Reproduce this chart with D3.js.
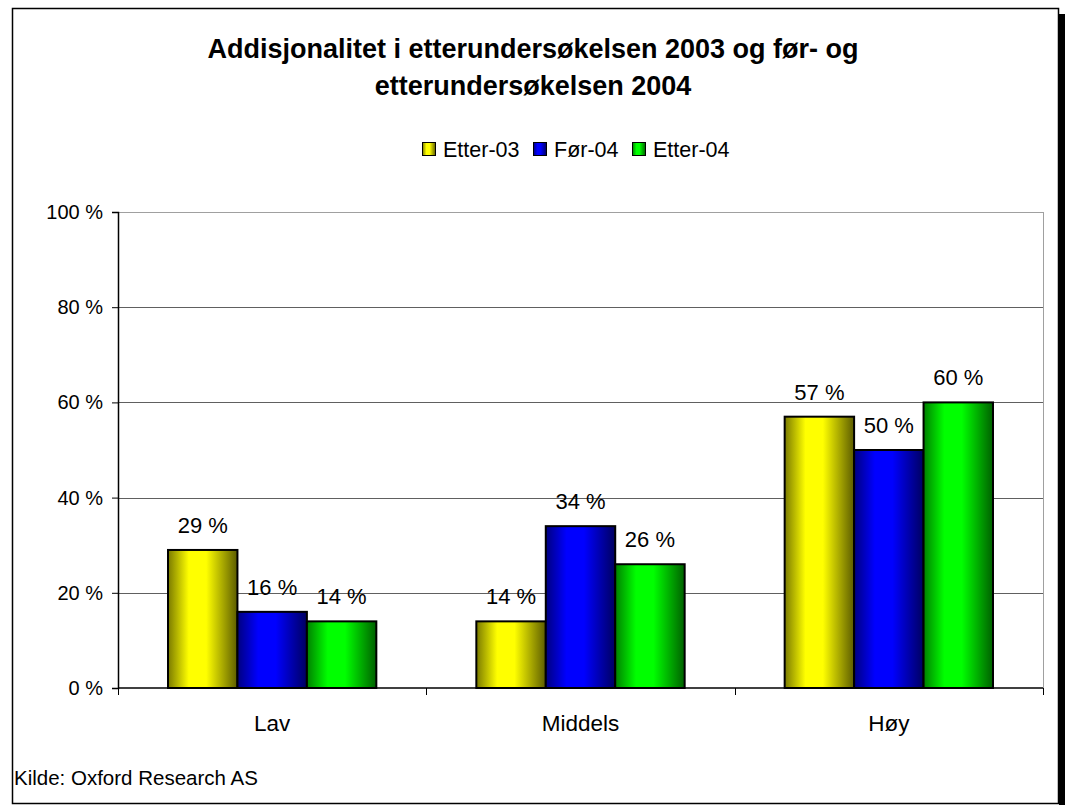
<!DOCTYPE html>
<html>
<head>
<meta charset="utf-8">
<script src="https://cdn.jsdelivr.net/npm/d3@7"></script>
<style>
  body { margin: 0; background: #fff; }
  text { font-family: "Liberation Sans", Arial, sans-serif; fill: #000; }
</style>
</head>
<body>
<svg id="chart" width="1065" height="805"></svg>
<script>
// data
const categories = ["Lav", "Middels", "Høy"];
const seriesNames = ["Etter-03", "Før-04", "Etter-04"];
const etter03 = [29, 14, 57];
const foer04 = [16, 34, 50];
const etter04 = [14, 26, 60];
const yTicks = [0, 20, 40, 60, 80, 100];

const seriesValues = [etter03, foer04, etter04];
const colors = [
  { bright: "#ffff00", dark: "#7a7a00", dark2: "#5c5c00" },
  { bright: "#0000ff", dark: "#000080", dark2: "#000060" },
  { bright: "#00ff00", dark: "#008000", dark2: "#006000" }
];

const svg = d3.select("#chart");
const margin = { left: 118, right: 1043, top: 212, bottom: 688 };

// gradientes (efecto cilindro)
const defs = svg.append("defs");
colors.forEach((c, i) => {
  const g = defs.append("linearGradient")
    .attr("id", "grad" + i)
    .attr("x1", "0%").attr("x2", "100%").attr("y1", "0%").attr("y2", "0%");
  g.append("stop").attr("offset", "0%").attr("stop-color", c.dark);
  g.append("stop").attr("offset", "30%").attr("stop-color", c.bright);
  g.append("stop").attr("offset", "55%").attr("stop-color", c.bright);
  g.append("stop").attr("offset", "100%").attr("stop-color", c.dark2);
});

// marco + sombra
svg.append("rect").attr("x", 1059).attr("y", 14).attr("width", 6).attr("height", 791).attr("fill", "#000");
svg.append("rect").attr("x", 12.5).attr("y", 8.5).attr("width", 1046).attr("height", 795)
  .attr("fill", "#fff").attr("stroke", "#000").attr("stroke-width", 1.5);

// titulo
const title = svg.append("text").attr("text-anchor", "middle")
  .style("font-size", "27px").style("font-weight", "bold");
title.append("tspan").attr("x", 533).attr("y", 58).text("Addisjonalitet i etterundersøkelsen 2003 og før- og");
title.append("tspan").attr("x", 533).attr("y", 95).text("etterundersøkelsen 2004");

// leyenda
const legendX = [422, 533, 632];
const legend = svg.append("g").selectAll("g").data(seriesNames).enter().append("g")
  .attr("transform", (d, i) => `translate(${legendX[i]},149)`);
legend.append("rect").attr("x", 0.5).attr("y", -6.5).attr("width", 13).attr("height", 13)
  .attr("fill", (d, i) => `url(#grad${i})`).attr("stroke", "#000").attr("stroke-width", 1);
legend.append("text").attr("x", 21).attr("y", 8).style("font-size", "21.5px").text(d => d);

// escalas
const x0 = d3.scaleBand().domain(categories).range([margin.left, margin.right]).paddingInner(0).paddingOuter(0);
const x1 = d3.scaleBand().domain(seriesNames).range([0, x0.bandwidth()]).paddingInner(0).paddingOuter(0.72);
const y = d3.scaleLinear().domain([0, 100]).range([margin.bottom, margin.top]);

// rejilla
svg.append("g").selectAll("line").data(yTicks.filter(t => t > 0)).enter().append("line")
  .attr("x1", margin.left).attr("x2", margin.right)
  .attr("y1", d => Math.round(y(d)) + 0.5).attr("y2", d => Math.round(y(d)) + 0.5)
  .attr("stroke", d => d === 100 ? "#a0a0a0" : "#606060").attr("stroke-width", 1);
svg.append("line").attr("x1", margin.right + 0.5).attr("x2", margin.right + 0.5)
  .attr("y1", margin.top).attr("y2", margin.bottom).attr("stroke", "#a0a0a0");

// barras
const groups = svg.append("g").selectAll("g").data(categories).enter().append("g")
  .attr("transform", d => `translate(${x0(d)},0)`);
groups.selectAll("rect")
  .data((c, ci) => seriesNames.map((s, si) => ({ s, si, v: seriesValues[si][ci] })))
  .enter().append("rect")
  .attr("x", d => x1(d.s))
  .attr("y", d => y(d.v))
  .attr("width", x1.bandwidth())
  .attr("height", d => y(0) - y(d.v))
  .attr("fill", d => `url(#grad${d.si})`)
  .attr("stroke", "#000").attr("stroke-width", 2);
groups.selectAll("text")
  .data((c, ci) => seriesNames.map((s, si) => ({ s, si, v: seriesValues[si][ci] })))
  .enter().append("text")
  .attr("x", d => x1(d.s) + x1.bandwidth() / 2)
  .attr("y", d => y(d.v) - 17)
  .attr("text-anchor", "middle")
  .style("font-size", "22px")
  .text(d => d.v + " %");

// eje Y
const yAxis = svg.append("g").attr("transform", `translate(${margin.left},0)`)
  .call(d3.axisLeft(y).tickValues(yTicks).tickSize(6).tickPadding(9).tickFormat(d => d + " %"));
yAxis.select(".domain").attr("stroke", "#000").attr("stroke-width", 1.5);
yAxis.selectAll(".tick line").attr("stroke", "#000");
yAxis.selectAll("text").style("font-size", "20px").style("font-family", "Liberation Sans, Arial, sans-serif");

// eje X
const xAxis = svg.append("g").attr("transform", `translate(0,${margin.bottom})`);
xAxis.append("line").attr("x1", margin.left).attr("x2", margin.right)
  .attr("stroke", "#000").attr("stroke-width", 1.5);
const bounds = categories.map(c => x0(c)).concat([margin.right]);
xAxis.selectAll("line.tk").data(bounds).enter().append("line").attr("class", "tk")
  .attr("x1", d => Math.round(d) + 0.5).attr("x2", d => Math.round(d) + 0.5)
  .attr("y1", 0).attr("y2", 7).attr("stroke", "#000");
xAxis.selectAll("text").data(categories).enter().append("text")
  .attr("x", d => x0(d) + x0.bandwidth() / 2).attr("y", 43)
  .attr("text-anchor", "middle").style("font-size", "22.5px").text(d => d);

// fuente
svg.append("text").attr("x", 14).attr("y", 785).style("font-size", "20.5px").text("Kilde: Oxford Research AS");
</script>
</body>
</html>
